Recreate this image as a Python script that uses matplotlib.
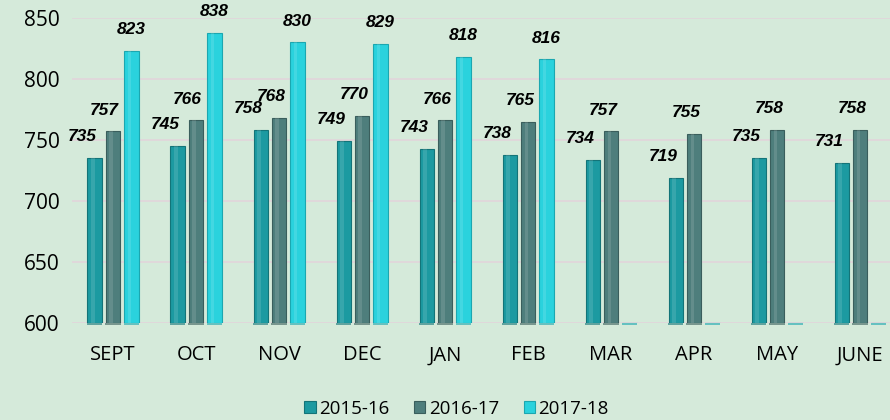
import numpy as np
import matplotlib
matplotlib.use('Agg')
import matplotlib.pyplot as plt

months = ['SEPT', 'OCT', 'NOV', 'DEC', 'JAN', 'FEB', 'MAR', 'APR', 'MAY', 'JUNE']
s1516 = [735, 745, 758, 749, 743, 738, 734, 719, 735, 731]
s1617 = [757, 766, 768, 770, 766, 765, 757, 755, 758, 758]
s1718 = [823, 838, 830, 829, 818, 816, None, None, None, None]
series_names = ['2015-16', '2016-17', '2017-18']

colors = ['#1C9AA1', '#4E7E7C', '#2AD2DD']
edge = ['#137478', '#3A5E5C', '#1BA7B0']
base = 600

plt.rcParams['font.family'] = ['Open Sans', 'DejaVu Sans']
fig = plt.figure(figsize=(8.9, 4.2), dpi=100)
fig.patch.set_facecolor('#D5EADA')
ax = fig.add_axes([72 / 890, 97 / 420, 1 - 72 / 890, 305 / 420])
ax.set_facecolor('#D5EADA')

x = np.arange(len(months))
w = 0.175
offs = [-0.22, 0.0, 0.22]
lab_dx = [-0.15, -0.1, 0.0]
for k, vals in enumerate([s1516, s1617, s1718]):
    h = [(v - base) if v is not None else 0 for v in vals]
    ax.bar(x + offs[k], h, w, bottom=base, color=colors[k], edgecolor=edge[k],
           linewidth=0.8, label=series_names[k], zorder=3)
    # lighter sheen down the bar
    ax.bar(x + offs[k] - w * 0.12, h, w * 0.25, bottom=base, color='white',
           alpha=0.12, linewidth=0, zorder=4)
    # flat base plate under each bar
    ax.bar(x + offs[k], [2] * len(vals), w * 1.05, bottom=base - 2,
           color=edge[k], alpha=0.6, linewidth=0, zorder=3, clip_on=False)
    for i, v in enumerate(vals):
        if v is None:
            continue
        ax.annotate(str(v), (x[i] + offs[k] + lab_dx[k], v), xytext=(0, 10),
                    textcoords='offset points', ha='center', va='bottom',
                    fontsize=12.5, fontweight='bold', fontstyle='italic',
                    family=['Liberation Sans', 'DejaVu Sans'],
                    annotation_clip=False)

ax.set_ylim(600, 850)
ax.set_yticks(np.arange(600, 851, 50))
ax.set_xlim(-0.494, 9.36)
ax.set_xticks(x)
ax.set_xticklabels(months)
ax.tick_params(axis='x', length=0, pad=16, labelsize=14.5)
ax.tick_params(axis='y', length=0, pad=9, labelsize=15)
ax.grid(axis='y', color='#E2D5DB', linewidth=1.2, zorder=0)
ax.set_axisbelow(True)
for s in ax.spines.values():
    s.set_visible(False)

leg = fig.legend(loc='lower center', bbox_to_anchor=(0.513, -0.035), ncol=3,
                 frameon=False, fontsize=13.5, handlelength=0.6, handleheight=0.6,
                 handletextpad=0.2, columnspacing=1.3)

fig.savefig('out.png', dpi=100, facecolor=fig.get_facecolor())
